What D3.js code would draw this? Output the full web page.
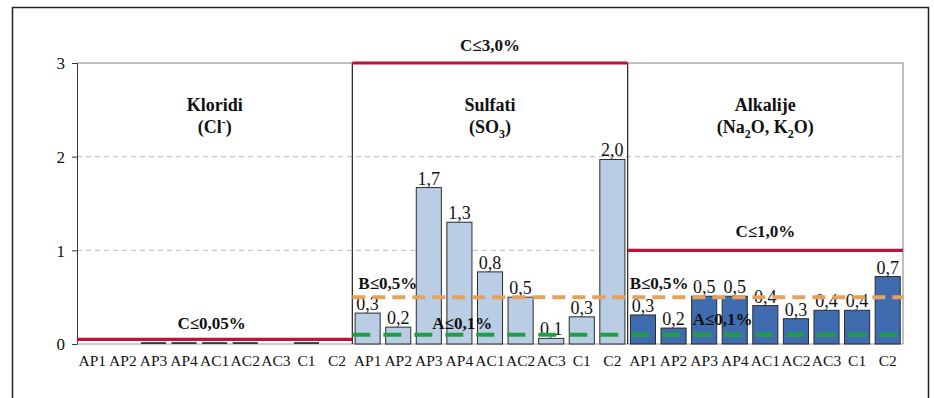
<!DOCTYPE html>
<html>
<head>
<meta charset="utf-8">
<script src="https://cdn.jsdelivr.net/npm/d3@7"></script>
<style>
  body { margin: 0; background: #fff; }
  svg text { font-family: "Liberation Serif", "DejaVu Serif", serif !important; fill: #111; }
</style>
</head>
<body>
<div id="chart"></div>
<script>
(function () {

  // data
  const categories = ["AP1", "AP2", "AP3", "AP4", "AC1", "AC2", "AC3", "C1", "C2"];
  const groups = ["Kloridi", "Sulfati", "Alkalije"];
  const kloridi = [0, 0, 0.02, 0.02, 0.02, 0.02, 0, 0.02, 0];
  const sulfati = [0.33, 0.18, 1.67, 1.30, 0.77, 0.50, 0.06, 0.29, 1.97];
  const alkalije = [0.31, 0.17, 0.51, 0.51, 0.41, 0.27, 0.36, 0.36, 0.72];
  const yTicks = [0, 1, 2, 3];

  // limit lines: group index range + value
  const limitC = [
    { from: 0, to: 0, value: 0.05, label: "C≤0,05%" },
    { from: 1, to: 1, value: 3.0, label: "C≤3,0%" },
    { from: 2, to: 2, value: 1.0, label: "C≤1,0%" }
  ];
  const limitB = { from: 1, to: 2, value: 0.5, label: "B≤0,5%" };
  const limitA = { from: 1, to: 2, value: 0.1, label: "A≤0,1%" };

  const series = [kloridi, sulfati, alkalije];
  const barColors = ["#3a3a3a", "#b9cde5", "#3f6cae"];

  const W = 934, H = 398;
  const margin = { top: 63, right: 31, bottom: 54, left: 77 };
  const width = W - margin.left - margin.right,
    height = H - margin.top - margin.bottom;

  const svg = d3.select("#chart")
    .append("svg")
    .attr("width", W)
    .attr("height", H)
    .attr("font-family", "Liberation Serif, serif");

  // outer frame
  svg.append("path")
    .attr("d", `M12.5,${H + 2}V7.5H928.5V${H + 2}`)
    .attr("fill", "none")
    .attr("stroke", "#222")
    .attr("stroke-width", 1.5);

  const g = svg.append("g")
    .attr("transform", `translate(${margin.left},${margin.top})`);

  const y = d3.scaleLinear().domain([0, 3]).range([height, 0]);
  const gx = d3.scaleBand().domain(groups).range([0, width]);
  const x = d3.scaleBand().domain(categories).range([0, gx.bandwidth()]).paddingInner(0.18).paddingOuter(0.09);

  // grid lines
  g.selectAll(".grid")
    .data([1, 2])
    .join("line")
    .attr("x1", 0).attr("x2", width)
    .attr("y1", d => y(d)).attr("y2", d => y(d))
    .attr("stroke", "#bbb")
    .attr("stroke-dasharray", "5,4");

  // plot border top / right
  g.append("path")
    .attr("d", `M0,${y(3)}H${width}V${height}`)
    .attr("fill", "none")
    .attr("stroke", "#aaa")
    .attr("stroke-width", 1.5);

  // y axis
  const yAxis = g.append("g")
    .call(d3.axisLeft(y).tickValues(yTicks).tickSize(5).tickFormat(d3.format("d")));
  yAxis.attr("font-family", null);
  yAxis.select(".domain").attr("stroke", "#333");
  yAxis.selectAll(".tick line").attr("stroke", "#333");
  yAxis.selectAll("text")
    .style("font-size", "17px")
    .attr("x", -12)
    .attr("dy", "0.35em");

  // x baseline
  g.append("line")
    .attr("x1", 0).attr("x2", width)
    .attr("y1", height).attr("y2", height)
    .attr("stroke", "#999");

  const fmt = v => d3.format(".1f")(v).replace(".", ",");

  groups.forEach((grp, gi) => {
    const pg = g.append("g").attr("transform", `translate(${gx(grp)},0)`);
    const vals = series[gi];

    pg.selectAll("rect")
      .data(vals.map((v, i) => ({ cat: categories[i], v })).filter(d => d.v > 0))
      .join("rect")
      .attr("x", d => x(d.cat))
      .attr("y", d => y(d.v))
      .attr("width", x.bandwidth())
      .attr("height", d => height - y(d.v))
      .attr("fill", barColors[gi])
      .attr("stroke", gi === 0 ? "none" : "#2b2b2b")
      .attr("stroke-width", 1);

    if (gi > 0) {
      pg.selectAll(".val")
        .data(vals.map((v, i) => ({ cat: categories[i], v })))
        .join("text")
        .attr("x", d => x(d.cat) + x.bandwidth() / 2)
        .attr("y", d => y(d.v) - 3)
        .attr("text-anchor", "middle")
        .style("font-size", "18px")
        .text(d => fmt(d.v));
    }

    // category labels
    pg.selectAll(".cat")
      .data(categories)
      .join("text")
      .attr("x", d => x(d) + x.bandwidth() / 2)
      .attr("y", height + 22)
      .attr("text-anchor", "middle")
      .style("font-size", "15.5px")
      .text(d => d);

    // panel separator
    if (gi > 0) {
      pg.append("line")
        .attr("x1", 0).attr("x2", 0)
        .attr("y1", y(3)).attr("y2", height)
        .attr("stroke", "#222")
        .attr("stroke-width", 1.2);
    }
  });

  // panel titles
  const titles = [
    { t: "Kloridi", sub: [["(Cl", ""], ["-", "sup"], [")", ""]] },
    { t: "Sulfati", sub: [["(SO", ""], ["3", "sub"], [")", ""]] },
    { t: "Alkalije", sub: [["(Na", ""], ["2", "sub"], ["O, K", ""], ["2", "sub"], ["O)", ""]] }
  ];
  titles.forEach((tt, i) => {
    const cx = gx(groups[i]) + gx.bandwidth() / 2;
    g.append("text")
      .attr("x", cx).attr("y", 48)
      .attr("text-anchor", "middle")
      .style("font-size", "18px").style("font-weight", "bold")
      .text(tt.t);
    const t2 = g.append("text")
      .attr("x", cx).attr("y", 70)
      .attr("text-anchor", "middle")
      .style("font-size", "18px").style("font-weight", "bold");
    let shift = 0;
    tt.sub.forEach(([s, kind]) => {
      const sp = t2.append("tspan").text(s);
      if (kind === "sub") { sp.attr("dy", 5).style("font-size", "12px"); shift = 5; }
      else if (kind === "sup") { sp.attr("dy", -7).style("font-size", "12px"); shift = -7; }
      else if (shift) { sp.attr("dy", -shift); shift = 0; }
    });
  });

  // limit lines
  const lineSpan = l => [gx(groups[l.from]), gx(groups[l.to]) + gx.bandwidth()];

  g.selectAll(".limC")
    .data(limitC)
    .join("line")
    .attr("x1", d => lineSpan(d)[0]).attr("x2", d => lineSpan(d)[1])
    .attr("y1", d => y(d.value)).attr("y2", d => y(d.value))
    .attr("stroke", "#c0103c")
    .attr("stroke-width", 3.2);

  [[limitB, "#e4a25e", "13,7"], [limitA, "#1f9e46", "18,13"]].forEach(([l, col, dash]) => {
    const [a, b] = lineSpan(l);
    g.append("line")
      .attr("x1", a).attr("x2", b)
      .attr("y1", y(l.value)).attr("y2", y(l.value))
      .attr("stroke", col)
      .attr("stroke-width", 4)
      .attr("stroke-dasharray", dash);
  });

  const bold = (xx, yy, txt, anchor) => g.append("text")
    .attr("x", xx).attr("y", yy)
    .attr("text-anchor", anchor)
    .style("font-size", "17px").style("font-weight", "bold")
    .text(txt);

  // C labels
  limitC.forEach((l, i) => {
    const cx = gx(groups[i]) + gx.bandwidth() / 2;
    const off = [-10, -12, -13][i];
    bold(cx - (i === 0 ? 3 : 0), y(l.value) + off, l.label, "middle");
  });
  // B and A labels
  bold(gx(groups[1]) + 6, y(limitB.value) - 8, limitB.label, "start");
  bold(gx(groups[2]) + 2, y(limitB.value) - 8, limitB.label, "start");
  bold(gx(groups[1]) + 80, y(limitA.value) - 6, limitA.label, "start");
  bold(gx(groups[2]) + 65, y(limitA.value) - 10, limitA.label, "start");

})();
</script>
</body>
</html>
